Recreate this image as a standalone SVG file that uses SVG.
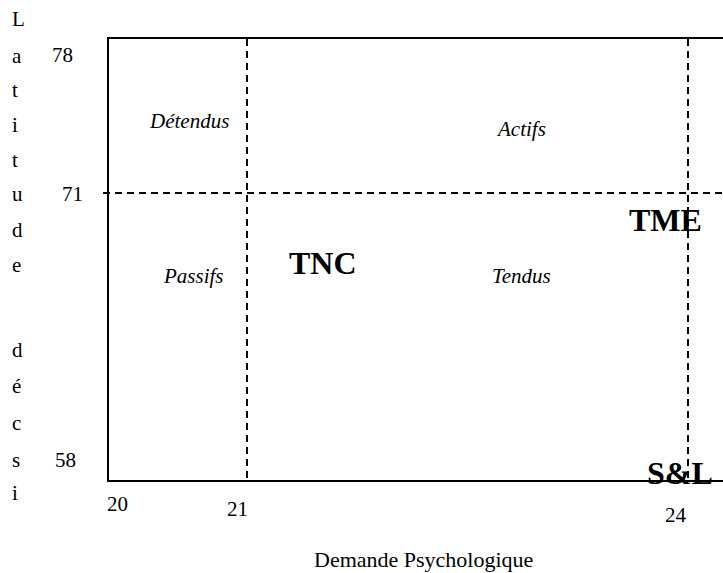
<svg xmlns="http://www.w3.org/2000/svg" width="723" height="573" viewBox="0 0 723 573">
<style>
.t{font-family:"Liberation Serif","Times New Roman",serif;font-size:21px;fill:#000}
.i{font-family:"Liberation Serif","Times New Roman",serif;font-size:21px;font-style:italic;fill:#000}
.b{font-family:"Liberation Serif","Times New Roman",serif;font-size:32px;font-weight:bold;fill:#000}
.s{stroke:#000;stroke-width:2;fill:none}
.d{stroke:#000;stroke-width:2;fill:none;stroke-dasharray:7 5}
</style>
<rect width="723" height="573" fill="#fff"/>
<g id="connectors">
<line class="s" x1="108" y1="37" x2="108" y2="482"/>
<line class="s" x1="107" y1="38" x2="723" y2="38"/>
<line class="s" x1="107" y1="481" x2="723" y2="481"/>
<line class="d" x1="247" y1="39" x2="247" y2="480"/>
<line class="d" x1="688" y1="39" x2="688" y2="480"/>
<line class="d" x1="103" y1="193" x2="723" y2="193"/>
</g>
<g id="y-axis-label">
<text class="t" x="12" y="26">L</text>
<text class="t" x="12" y="63">a</text>
<text class="t" x="12" y="97">t</text>
<text class="t" x="12" y="132">i</text>
<text class="t" x="12" y="167">t</text>
<text class="t" x="12" y="201">u</text>
<text class="t" x="12" y="237">d</text>
<text class="t" x="12" y="272">e</text>
<text class="t" x="12" y="357">d</text>
<text class="t" x="12" y="393">é</text>
<text class="t" x="12" y="430">c</text>
<text class="t" x="12" y="467">s</text>
<text class="t" x="12" y="500">i</text>
</g>
<g id="y-ticks">
<text class="t" x="52" y="62">78</text>
<text class="t" x="62" y="201">71</text>
<text class="t" x="55" y="467">58</text>
</g>
<g id="x-ticks">
<text class="t" x="107" y="511">20</text>
<text class="t" x="227" y="516">21</text>
<text class="t" x="665" y="522">24</text>
</g>
<g id="x-axis-label">
<text class="t" x="314" y="567" style="font-size:22px">Demande Psychologique</text>
</g>
<g id="quadrant-detendus"><text class="i" x="150" y="128">Détendus</text></g>
<g id="quadrant-actifs"><text class="i" x="498" y="136">Actifs</text></g>
<g id="quadrant-passifs"><text class="i" x="164" y="283">Passifs</text></g>
<g id="quadrant-tendus"><text class="i" x="492" y="283">Tendus</text></g>
<g id="point-tnc"><text class="b" x="289" y="274">TNC</text></g>
<g id="point-tme"><text class="b" x="629" y="231">TME</text></g>
<g id="point-sl"><text class="b" x="647" y="484">S&amp;L</text></g>
</svg>
